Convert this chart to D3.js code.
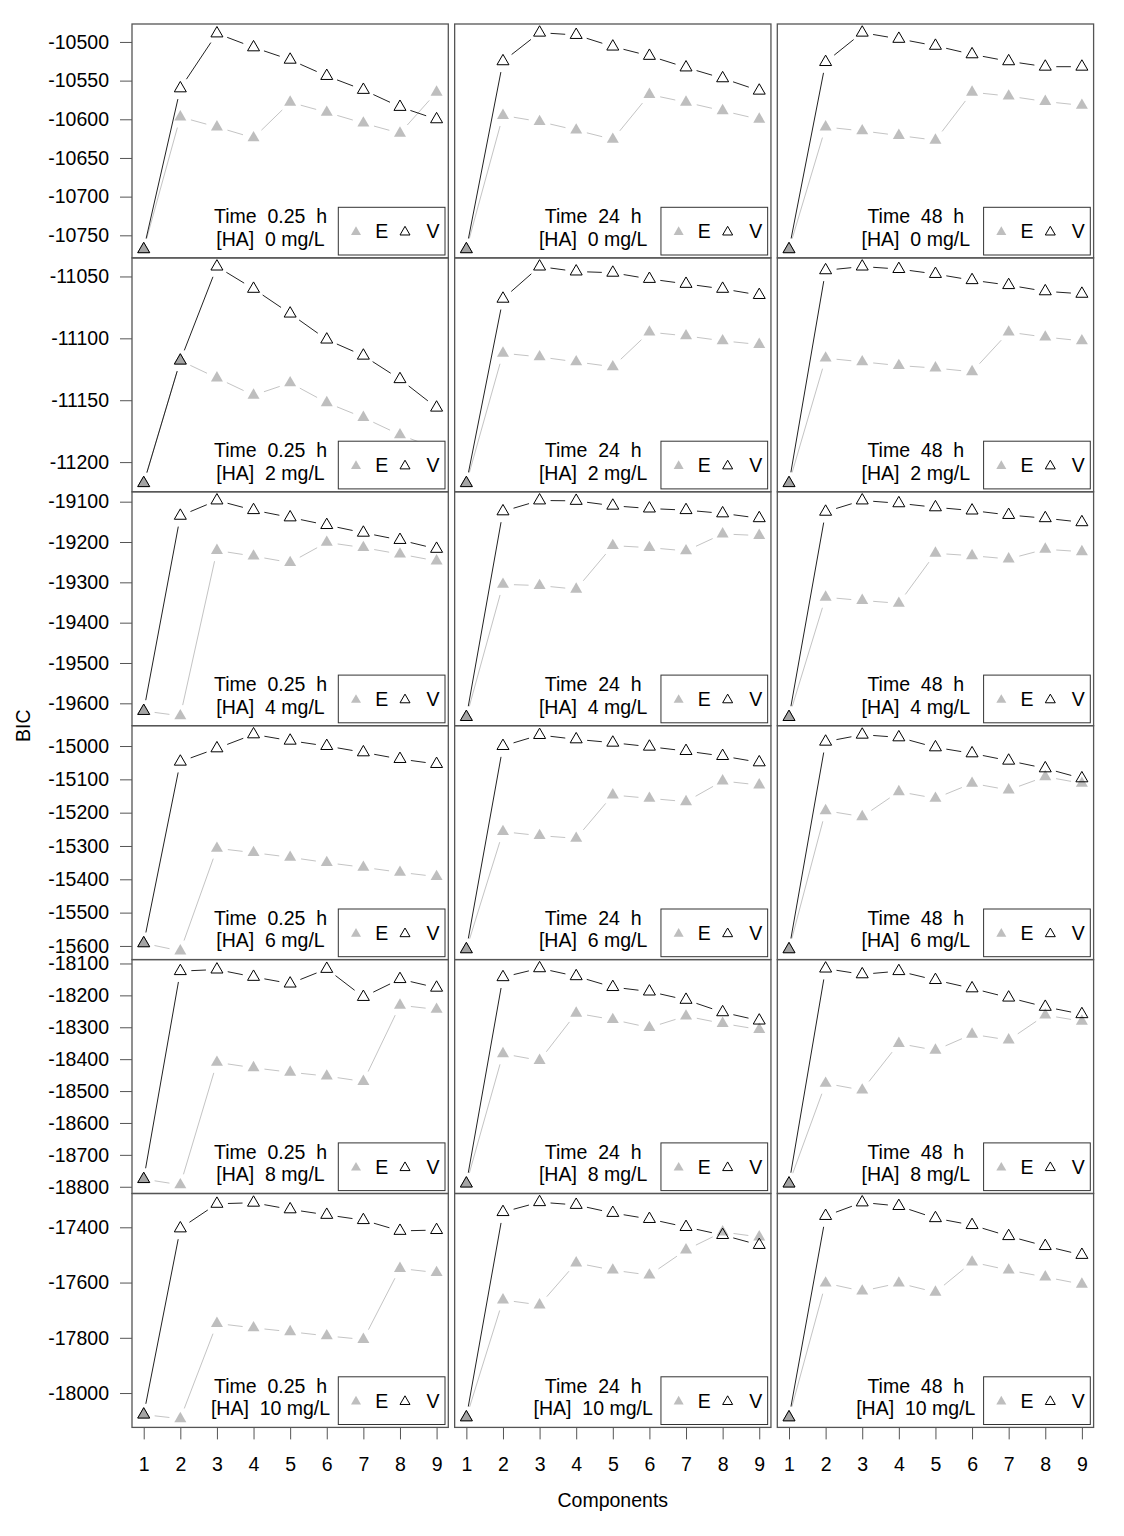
<!DOCTYPE html>
<html><head><meta charset="utf-8">
<script src="https://cdn.jsdelivr.net/npm/d3@7"></script>
<style>
body{margin:0;background:#fff}
text{font-family:"Liberation Sans",Arial,Helvetica,sans-serif;fill:#000}
</style>
</head><body>
<svg id="chart" width="1124" height="1536"></svg>
<script>
// ---------------- data ----------------
const components = [1, 2, 3, 4, 5, 6, 7, 8, 9];
const timeLabels = ["0.25", "24", "48"];
const haLabels = ["0", "2", "4", "6", "8", "10"];

// BIC values, one array per [HA] level; inner arrays = Time 0.25 h, 24 h, 48 h
const bicE_HA0 = [
  [-10768, -10597, -10610, -10624, -10578, -10591, -10605, -10618, -10565],
  [-10768, -10595, -10603, -10614, -10626, -10568, -10578, -10589, -10600],
  [-10768, -10610, -10615, -10621, -10627, -10565, -10570, -10577, -10582]];
const bicV_HA0 = [
  [-10768, -10560, -10489, -10507, -10523, -10544, -10562, -10584, -10600],
  [-10768, -10525, -10488, -10491, -10506, -10518, -10533, -10547, -10563],
  [-10768, -10526, -10488, -10496, -10505, -10516, -10525, -10532, -10532]];

const bicE_HA2 = [
  [-11217, -11118, -11132, -11146, -11136, -11152, -11164, -11178, -11189],
  [-11217, -11112, -11115, -11119, -11123, -11095, -11098, -11102, -11105],
  [-11217, -11116, -11119, -11122, -11124, -11127, -11095, -11099, -11102]];
const bicV_HA2 = [
  [-11217, -11118, -11042, -11060, -11080, -11101, -11114, -11133, -11156],
  [-11217, -11068, -11042, -11046, -11047, -11052, -11056, -11060, -11065],
  [-11217, -11045, -11042, -11044, -11048, -11053, -11057, -11062, -11064]];

const bicE_HA4 = [
  [-19619, -19631, -19221, -19235, -19251, -19201, -19214, -19230, -19247],
  [-19634, -19305, -19308, -19317, -19209, -19214, -19222, -19180, -19184],
  [-19634, -19337, -19345, -19352, -19228, -19234, -19242, -19218, -19224]];
const bicV_HA4 = [
  [-19619, -19135, -19097, -19121, -19139, -19158, -19177, -19195, -19217],
  [-19634, -19124, -19097, -19098, -19110, -19117, -19121, -19129, -19141],
  [-19634, -19125, -19097, -19104, -19114, -19122, -19133, -19141, -19151]];

const bicE_HA6 = [
  [-15592, -15615, -15307, -15320, -15334, -15350, -15364, -15379, -15392],
  [-15610, -15257, -15269, -15277, -15147, -15157, -15167, -15105, -15117],
  [-15610, -15194, -15212, -15137, -15157, -15112, -15132, -15092, -15112]];
const bicV_HA6 = [
  [-15592, -15047, -15007, -14965, -14984, -15000, -15019, -15039, -15054],
  [-15610, -15000, -14967, -14980, -14990, -15002, -15015, -15030, -15049],
  [-15610, -14987, -14966, -14974, -15004, -15022, -15044, -15067, -15097]];

const bicE_HA8 = [
  [-18776, -18794, -18410, -18427, -18441, -18453, -18470, -18231, -18244],
  [-18790, -18383, -18404, -18256, -18276, -18301, -18265, -18288, -18307],
  [-18790, -18476, -18497, -18351, -18372, -18322, -18340, -18262, -18281]];
const bicV_HA8 = [
  [-18776, -18124, -18119, -18142, -18163, -18117, -18205, -18149, -18176],
  [-18790, -18143, -18115, -18140, -18174, -18188, -18214, -18253, -18279],
  [-18790, -18116, -18134, -18124, -18152, -18178, -18207, -18236, -18259]];

const bicE_HA10 = [
  [-18078, -18093, -17748, -17764, -17778, -17793, -17806, -17549, -17564],
  [-18088, -17663, -17681, -17529, -17555, -17573, -17482, -17417, -17435],
  [-18088, -17602, -17631, -17602, -17635, -17526, -17555, -17580, -17606]];
const bicV_HA10 = [
  [-18078, -17404, -17315, -17311, -17335, -17355, -17374, -17413, -17410],
  [-18088, -17345, -17309, -17319, -17348, -17370, -17399, -17428, -17464],
  [-18088, -17359, -17310, -17323, -17367, -17392, -17432, -17468, -17500]];

const ticksHA0 = [-10750, -10700, -10650, -10600, -10550, -10500];
const ticksHA2 = [-11200, -11150, -11100, -11050];
const ticksHA4 = [-19600, -19500, -19400, -19300, -19200, -19100];
const ticksHA6 = [-15600, -15500, -15400, -15300, -15200, -15100, -15000];
const ticksHA8 = [-18800, -18700, -18600, -18500, -18400, -18300, -18200, -18100];
const ticksHA10 = [-18000, -17800, -17600, -17400];

const seriesNames = ["E", "V"];

const rows = [
  {E: bicE_HA0, V: bicV_HA0, ticks: ticksHA0},
  {E: bicE_HA2, V: bicV_HA2, ticks: ticksHA2},
  {E: bicE_HA4, V: bicV_HA4, ticks: ticksHA4},
  {E: bicE_HA6, V: bicV_HA6, ticks: ticksHA6},
  {E: bicE_HA8, V: bicV_HA8, ticks: ticksHA8},
  {E: bicE_HA10, V: bicV_HA10, ticks: ticksHA10}
];

// ---------------- layout ----------------
const L0 = 132, colStep = 322.65, PW = 316.3;
const T0 = 24, PH = 233.9;
const FS = 19.5;
const GAP = 11;
const boxColor = "#555";
const eColor = "#bebebe";

const svg = d3.select("#chart");

function tri(cx, cy, w) {
  const r = w / Math.sqrt(3);
  return `M${cx},${cy - r}L${cx + w / 2},${cy + r / 2}L${cx - w / 2},${cy + r / 2}Z`;
}

function gappedSegments(pts) {
  const segs = [];
  for (let i = 1; i < pts.length; i++) {
    const [x0, y0] = pts[i - 1], [x1, y1] = pts[i];
    const d = Math.hypot(x1 - x0, y1 - y0);
    const f = GAP / d;
    if (f < 0.5) {
      segs.push([x0 + f * (x1 - x0), y0 + f * (y1 - y0), x1 - f * (x1 - x0), y1 - f * (y1 - y0)]);
    }
  }
  return segs;
}

const xExt = d3.extent(components);
const xPad = (xExt[1] - xExt[0]) * 0.04;

rows.forEach((row, ri) => {
  const T = T0 + ri * PH, B = T + PH;
  const all = row.E.flat().concat(row.V.flat());
  const [mn, mx] = d3.extent(all);
  const pad = (mx - mn) * 0.04;
  const y = d3.scaleLinear().domain([mn - pad, mx + pad]).range([B, T]);

  timeLabels.forEach((tl, ci) => {
    const L = L0 + ci * colStep;
    const x = d3.scaleLinear().domain([xExt[0] - xPad, xExt[1] + xPad]).range([L, L + PW]);
    const g = svg.append("g");

    const eVals = row.E[ci], vVals = row.V[ci];
    const draw = (vals, lineColor, fill, stroke, isE) => {
      const pts = components.map((c, i) => [x(c), y(vals[i])]);
      g.append("g").selectAll("line").data(gappedSegments(pts)).join("line")
        .attr("x1", d => d[0]).attr("y1", d => d[1]).attr("x2", d => d[2]).attr("y2", d => d[3])
        .attr("stroke", lineColor).attr("stroke-width", 1);
      g.append("g").selectAll("path").data(components).join("path")
        .attr("d", (c, i) => tri(x(c), y(vals[i]), 12))
        .attr("fill", (c, i) => isE ? (Math.abs(eVals[i] - vVals[i]) < 0.5 ? "#a4a4a4" : fill) : "none")
        .attr("stroke", (c, i) => isE ? (Math.abs(eVals[i] - vVals[i]) < 0.5 ? "#a4a4a4" : "none") : stroke)
        .attr("stroke-width", 1);
    };
    draw(eVals, "#c4c4c4", eColor, "none", true);
    draw(vVals, "#222", "none", "#000", false);

    // legend
    const lg = g.append("g");
    lg.append("rect").attr("x", L + 206.3).attr("y", B - 50.6).attr("width", 106.7).attr("height", 47.7)
      .attr("fill", "#fff").attr("stroke", "#333").attr("stroke-width", 1);
    lg.append("path").attr("d", tri(L + 224, B - 25.8, 10)).attr("fill", eColor);
    lg.append("text").attr("x", L + 243.2).attr("y", B - 19.6).attr("font-size", FS).text(seriesNames[0]);
    lg.append("path").attr("d", tri(L + 273, B - 25.8, 10)).attr("fill", "none").attr("stroke", "#000").attr("stroke-width", 1);
    lg.append("text").attr("x", L + 294.5).attr("y", B - 19.6).attr("font-size", FS).text(seriesNames[1]);

    // panel text
    g.append("text").attr("x", L + 138.5).attr("y", B - 34.8).attr("text-anchor", "middle")
      .attr("font-size", FS).style("white-space", "pre").text(`Time  ${tl}  h`);
    g.append("text").attr("x", L + 138.5).attr("y", B - 12.2).attr("text-anchor", "middle")
      .attr("font-size", FS).style("white-space", "pre").text(`[HA]  ${haLabels[ri]} mg/L`);

    // border
    g.append("rect").attr("x", L).attr("y", T).attr("width", PW).attr("height", PH)
      .attr("fill", "none").attr("stroke", boxColor).attr("stroke-width", 1.3);

    if (ci === 0) {
      const ax = svg.append("g").attr("transform", `translate(${L},0)`)
        .call(d3.axisLeft(y).tickValues(row.ticks).tickSize(12).tickPadding(11).tickFormat(d => String(d)));
      ax.select(".domain").remove();
      ax.selectAll(".tick line").attr("stroke", boxColor);
      ax.selectAll("text").attr("font-size", FS).attr("font-family", null);
    }
    if (ri === rows.length - 1) {
      const ax = svg.append("g").attr("transform", `translate(0,${B})`)
        .call(d3.axisBottom(x).tickValues(components).tickSize(12).tickPadding(17.5).tickFormat(d => String(d)));
      ax.select(".domain").remove();
      ax.selectAll(".tick line").attr("stroke", boxColor);
      ax.selectAll("text").attr("font-size", FS).attr("font-family", null);
    }
  });
});

const midX = L0 + (2 * colStep + PW) / 2;
svg.append("text").attr("x", midX).attr("y", 1507).attr("text-anchor", "middle").attr("font-size", FS).text("Components");
svg.append("text").attr("transform", `translate(30,${T0 + 3 * PH}) rotate(-90)`).attr("text-anchor", "middle")
  .attr("font-size", FS).text("BIC");
</script>
</body></html>
